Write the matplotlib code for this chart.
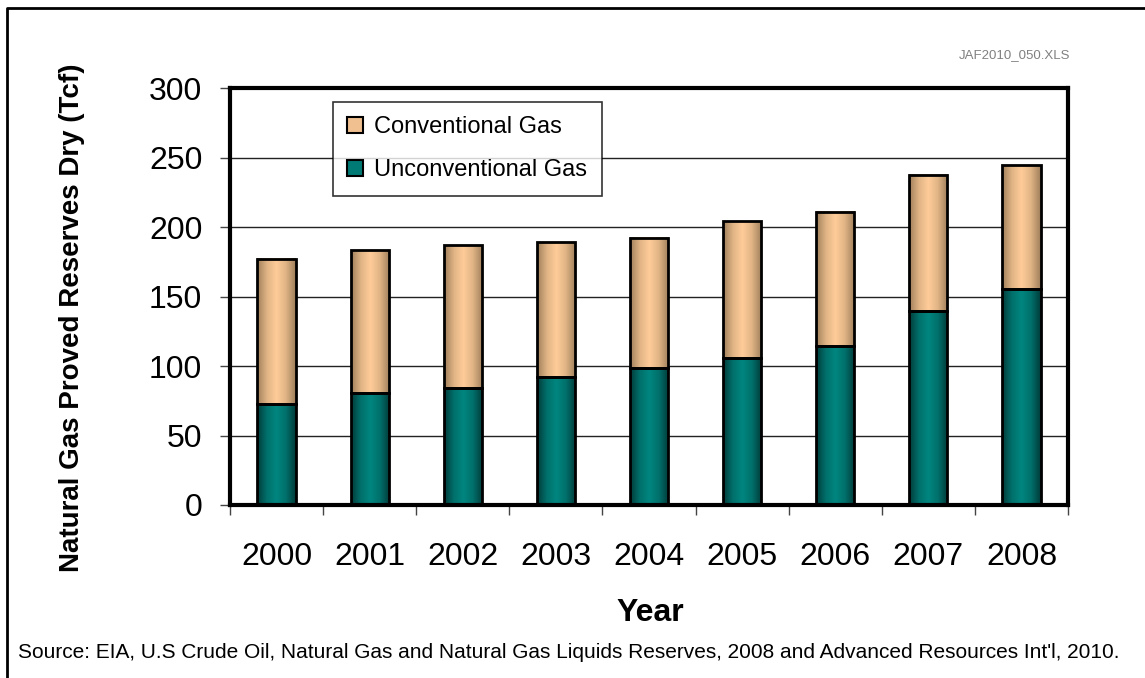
import numpy as np
import matplotlib
matplotlib.use("Agg")
import matplotlib.pyplot as plt
from matplotlib.patches import Patch
from matplotlib.colors import LinearSegmentedColormap
from matplotlib.lines import Line2D

plt.rcParams['font.family'] = ['Liberation Sans', 'DejaVu Sans']

# data (Tcf)
years = ["2000", "2001", "2002", "2003", "2004", "2005", "2006", "2007", "2008"]
total = [177.4, 183.5, 186.9, 189.0, 192.5, 204.4, 211.1, 237.7, 244.7]
unconventional = [72.5, 80.8, 84.3, 91.9, 98.3, 106.0, 114.2, 139.5, 155.5]
conventional = [t - u for t, u in zip(total, unconventional)]
y_ticks = [0, 50, 100, 150, 200, 250, 300]

# colours, dark at the edges and light in the middle like a cylinder
teal_cmap = LinearSegmentedColormap.from_list("teal", ["#003c3a", "#00706b", "#008680", "#00706b", "#003c3a"])
tan_cmap = LinearSegmentedColormap.from_list("tan", ["#a07f5c", "#e0b485", "#ffcc99", "#e0b485", "#a07f5c"])
grad = np.linspace(0, 1, 64).reshape(1, -1)

fig = plt.figure(figsize=(11.45, 6.78), dpi=100)
ax = fig.add_axes([0.2009, 0.2552, 0.7319, 0.6146])

w = 0.41
x = np.arange(len(years))
for i in x:
    u = unconventional[i]
    c = conventional[i]
    ax.imshow(grad, cmap=teal_cmap, extent=(i - w / 2, i + w / 2, 0, u),
              aspect='auto', zorder=2, interpolation='bilinear')
    ax.imshow(grad, cmap=tan_cmap, extent=(i - w / 2, i + w / 2, u, u + c),
              aspect='auto', zorder=2, interpolation='bilinear')

ax.bar(x, unconventional, w, facecolor='none', edgecolor='black', linewidth=2, zorder=3)
ax.bar(x, conventional, w, bottom=unconventional, facecolor='none', edgecolor='black',
       linewidth=2, zorder=3)

ax.set_xlim(-0.5, len(years) - 0.5)
ax.set_ylim(0, 300)

# grid
for yv in y_ticks[1:-1]:
    ax.axhline(yv, color='#222222', linewidth=1, zorder=1)

# y axis
ax.set_yticks(y_ticks)
ax.set_yticklabels([str(v) for v in y_ticks], fontsize=23)
ax.tick_params(axis='y', length=7, width=1, color='#444444', pad=13)

# x axis: ticks between categories, labels in the middle
ax.set_xticks(np.arange(-0.5, len(years), 1))
ax.set_xticklabels([])
ax.set_xticks(x, minor=True)
ax.set_xticklabels(years, minor=True, fontsize=23)
ax.tick_params(axis='x', which='major', length=7, width=1, color='#444444')
ax.tick_params(axis='x', which='minor', length=0, pad=27)

for s in ax.spines.values():
    s.set_linewidth(3)
    s.set_color('black')

handles = [Patch(facecolor='#f0c090', edgecolor='black', linewidth=1.5, label='Conventional Gas'),
           Patch(facecolor='#007a75', edgecolor='black', linewidth=1.5, label='Unconventional Gas')]
leg = ax.legend(handles=handles, loc='upper left', bbox_to_anchor=(0.123, 0.967),
                fontsize=17, frameon=True, fancybox=False, handlelength=0.65,
                handleheight=0.65, handletextpad=0.5, labelspacing=0.9,
                borderpad=0.6, borderaxespad=0)
leg.get_frame().set_edgecolor('black')
leg.get_frame().set_linewidth(1.2)
leg.set_zorder(5)

fig.text(0.063, 0.531, "Natural Gas Proved Reserves Dry (Tcf)", rotation=90,
         ha='center', va='center', fontsize=20, fontweight='bold')
fig.text(0.5677, 0.0959, "Year", ha='center', va='center', fontsize=23, fontweight='bold')
fig.text(0.016, 0.038, "Source: EIA, U.S Crude Oil, Natural Gas and Natural Gas Liquids Reserves, "
         "2008 and Advanced Resources Int'l, 2010.", ha='left', va='center', fontsize=15)
fig.text(0.935, 0.914, "JAF2010_050.XLS", ha='right', va='baseline', fontsize=9.5, color='#808080')

# outer border (left and top edges visible)
fig.add_artist(Line2D([0.0064, 0.0064, 1.0], [0.0, 0.9878, 0.9878], transform=fig.transFigure,
                      color='black', linewidth=2))

plt.savefig("out.png", dpi=100)
